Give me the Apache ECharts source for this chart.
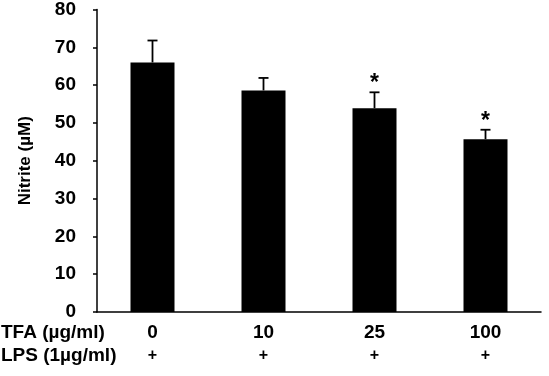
<!DOCTYPE html>
<html>
<head>
<meta charset="utf-8">
<script src="https://cdn.jsdelivr.net/npm/echarts@6/dist/echarts.min.js"></script>
<style>
  html, body { margin: 0; padding: 0; background: #fff; }
  #chart { width: 549px; height: 376px; }
</style>
</head>
<body>
<div id="chart"></div>
<script>
// doses of TFA, every group gets LPS
var tfaDoses = ['0', '10', '25', '100'];
var lpsMarks = ['+', '+', '+', '+'];
var nitrite = [66, 58.6, 53.9, 45.7];
var errUp = [5.8, 3.3, 4.2, 2.5];
var signif = [false, false, true, true];

var FONT = 'Liberation Sans';

var chart = echarts.init(document.getElementById('chart'));

chart.setOption({
  animation: false,
  grid: { left: 97, right: 8, top: 8, bottom: 64 },
  xAxis: {
    type: 'category',
    data: tfaDoses,
    axisLine: { lineStyle: { color: '#000', width: 1.5 } },
    axisTick: { inside: true, length: 4, lineStyle: { color: '#000', width: 1.5 } },
    axisLabel: {
      margin: 9,
      formatter: function (v, i) {
        return '{a|' + v + '}\n{b|' + lpsMarks[i] + '}';
      },
      rich: {
        a: { fontFamily: FONT, fontSize: 19, fontWeight: 'bold', color: '#000', lineHeight: 23 },
        b: { fontFamily: FONT, fontSize: 16, fontWeight: 'bold', color: '#000', lineHeight: 23 }
      }
    }
  },
  yAxis: {
    type: 'value',
    min: 0,
    max: 80,
    interval: 10,
    name: 'Nitrite (µM)',
    nameLocation: 'middle',
    nameGap: 63,
    nameRotate: 90,
    nameTextStyle: { fontFamily: FONT, fontSize: 17, fontWeight: 'bold', color: '#000' },
    splitLine: { show: false },
    axisLine: { show: true, lineStyle: { color: '#000', width: 1.5 } },
    axisTick: { show: true, length: 4, lineStyle: { color: '#000', width: 1.5 } },
    axisLabel: { margin: 21, fontFamily: FONT, fontSize: 19, fontWeight: 'bold', color: '#000' }
  },
  series: [
    {
      type: 'bar',
      data: nitrite,
      barWidth: 44,
      itemStyle: { color: '#000' }
    },
    {
      type: 'custom',
      data: nitrite.map(function (v, i) { return [i, v, v + errUp[i], signif[i] ? 1 : 0]; }),
      renderItem: function (params, api) {
        var low = api.coord([api.value(0), api.value(1)]);
        var high = api.coord([api.value(0), api.value(2)]);
        var kids = [
          { type: 'line', shape: { x1: low[0], y1: low[1], x2: high[0], y2: high[1] },
            style: { stroke: '#000', lineWidth: 1.8 } },
          { type: 'line', shape: { x1: high[0] - 5, y1: high[1], x2: high[0] + 5, y2: high[1] },
            style: { stroke: '#000', lineWidth: 1.8 } }
        ];
        if (api.value(3)) {
          kids.push({
            type: 'text',
            style: {
              text: '*', x: high[0], y: high[1] + 3,
              align: 'center', verticalAlign: 'bottom',
              font: 'bold 23px ' + FONT, fill: '#000'
            }
          });
        }
        return { type: 'group', children: kids };
      },
      z: 3
    }
  ],
  graphic: [
    { type: 'text', left: 1, top: 323,
      style: { text: 'TFA (µg/ml)', font: 'bold 19px ' + FONT, fill: '#000' } },
    { type: 'text', left: 1, top: 346,
      style: { text: 'LPS (1µg/ml)', font: 'bold 19px ' + FONT, fill: '#000' } }
  ]
});
</script>
</body>
</html>
